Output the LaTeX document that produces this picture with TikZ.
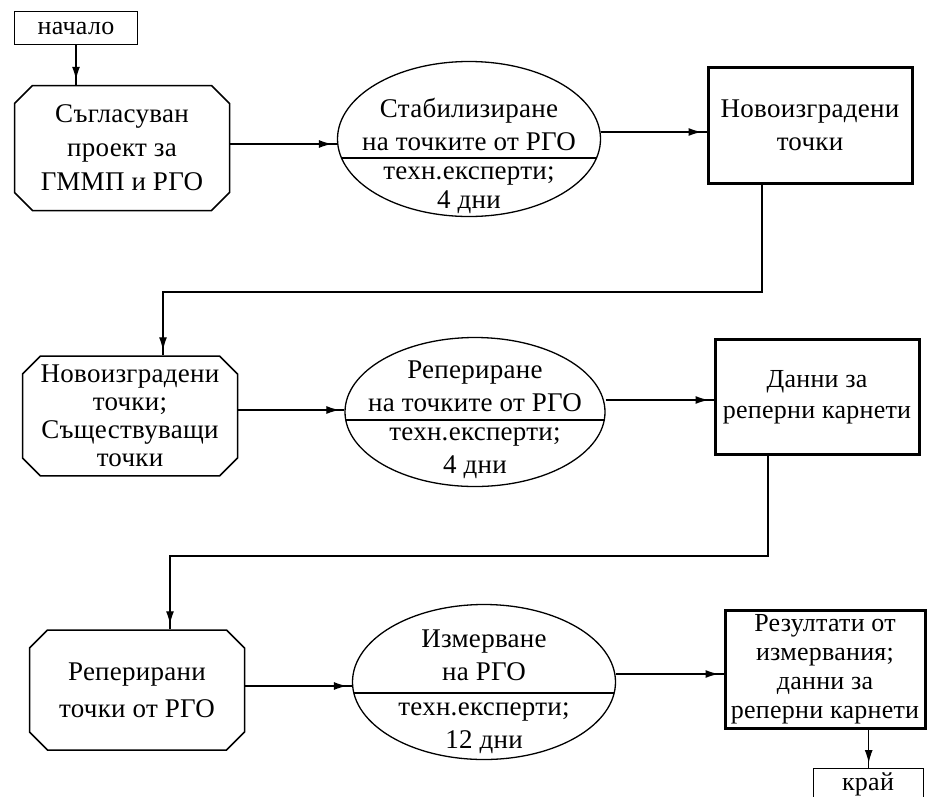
\documentclass[tikz,border=0pt]{standalone}
\usepackage{fontspec}
\setmainfont[LetterSpace=1]{Liberation Serif}
\usetikzlibrary{shapes.misc,shapes.geometric,decorations.markings,arrows.meta}
\begin{document}
\begin{tikzpicture}[x=1pt,y=-1pt,
  txt/.style={font=\fontsize{27}{33}\selectfont, align=center, inner sep=0pt},
  termbox/.style={draw, line width=1.4pt, rectangle, inner sep=0pt,
    minimum width=123pt, minimum height=33pt, font=\fontsize{26}{30}\selectfont},
  srcbox/.style={draw, line width=1.5pt, chamfered rectangle,
    chamfered rectangle xsep=9pt, chamfered rectangle ysep=9pt,
    minimum width=215pt, minimum height=125pt, inner sep=0pt, align=center},
  procell/.style={draw, line width=1.3pt, ellipse, inner sep=0pt,
    minimum width=263pt, minimum height=155pt},
  divider/.style={path picture={
    \draw[line width=1.3pt] ([yshift=-#1]path picture bounding box.west)
      -- ([yshift=-#1]path picture bounding box.east);}},
  resbox/.style={draw, line width=3pt, rectangle, inner sep=0pt,
    minimum width=204pt, minimum height=116pt, align=center},
  flow/.style={line width=1.2pt, postaction={decorate},
    decoration={markings, mark=at position -5pt with
      {\arrow{Latex[length=13pt,width=8pt]}}}}
]
\useasboundingbox (0,0) rectangle (927,796);

% start and end terminals
\node[termbox] (st) at (76,28) {начало};
\node[termbox, minimum width=110pt, minimum height=40pt, anchor=north west]
  (en) at (813,768) {};
\node[txt, font=\fontsize{26}{30}\selectfont] (ent) at (868,784) {край};

% row 1
\node[srcbox, txt, font=\fontsize{27}{34}\selectfont] (b1) at (122,148)
  {Съгласуван\\проект за\\ГММП и РГО};
\node[procell, divider=19pt] (e1) at (469,139) {};
\node[txt] (e1u) at (469,124) {Стабилизиране\\на точките от РГО};
\node[txt, font=\fontsize{27}{29}\selectfont] (e1l) at (469,190) {техн.експерти;\\4 дни};
\node[resbox, txt] (r1) at (810,125) {Новоизградени\\точки};

% row 2
\node[srcbox, txt, font=\fontsize{27}{28}\selectfont, minimum height=117pt]
  (b2) at (130,416) {Новоизградени\\точки;\\Съществуващи\\точки};
\node[procell, minimum width=260pt, minimum height=149pt, divider=8pt] (e2) at (475,412) {};
\node[txt] (e2u) at (475,386) {Репериране\\на точките от РГО};
\node[txt] (e2l) at (475,453) {техн.експерти;\\4 дни};
\node[resbox, txt, font=\fontsize{26}{31}\selectfont, minimum height=115pt]
  (r2) at (817,397) {Данни за\\реперни карнети};

% row 3
\node[srcbox, txt, font=\fontsize{27}{37}\selectfont, minimum height=120pt]
  (b3) at (137,690) {Реперирани\\точки от РГО};
\node[procell, divider=11pt] (e3) at (484,682) {};
\node[txt] (e3u) at (484,655) {Измерване\\на РГО};
\node[txt] (e3l) at (484,728) {техн.експерти;\\12 дни};
\node[resbox, txt, font=\fontsize{26}{29}\selectfont, minimum width=200pt, minimum height=118pt]
  (r3) at (825,669) {Резултати от\\измервания;\\данни за\\реперни карнети};

% levels of the horizontal links
\coordinate (h1a) at (0,144);
\coordinate (h1b) at (0,132);
\coordinate (h2a) at (0,410);
\coordinate (h2b) at (0,400);
\coordinate (h3a) at (0,686);
\coordinate (h3b) at (0,674);
% corners of the return links
\coordinate (d1) at (762,292);
\coordinate (c1) at (163,292);
\coordinate (d2) at (768,556);
\coordinate (c2) at (170,556);

% connectors
\draw[flow] (st.south) -- (st.south |- b1.north);
\draw[flow] (b1.east |- h1a) -- (e1.west |- h1a);
\draw[flow] (e1.east |- h1b) -- (r1.west |- h1b);
\draw[flow] (r1.south -| d1) -- (d1) -- (c1) -- (c1 |- b2.north);
\draw[flow] (b2.east |- h2a) -- (e2.west |- h2a);
\draw[flow] (e2.east |- h2b) -- (r2.west |- h2b);
\draw[flow] (r2.south -| d2) -- (d2) -- (c2) -- (c2 |- b3.north);
\draw[flow] (b3.east |- h3a) -- (e3.west |- h3a);
\draw[flow] (e3.east |- h3b) -- (r3.west |- h3b);
\draw[flow] (en.north |- r3.south) -- (en.north);
\end{tikzpicture}
\end{document}
